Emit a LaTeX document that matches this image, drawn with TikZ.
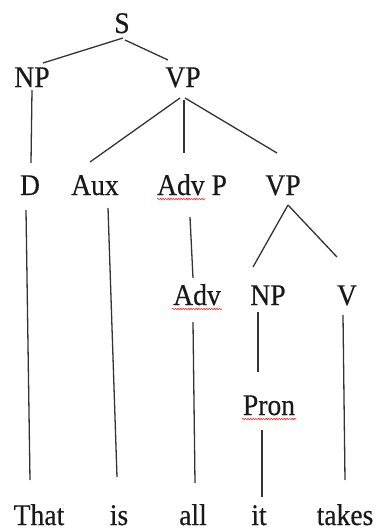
\documentclass[tikz,border=0pt]{standalone}
\usepackage{fontspec}
\setmainfont{Liberation Serif}[FakeStretch=0.92,FakeBold=0.4]
\usetikzlibrary{decorations.pathmorphing}
\begin{document}
\begin{tikzpicture}[x=1pt,y=-1pt,
  lab/.style={anchor=base,inner sep=0pt,font=\fontsize{30}{32}\selectfont,text=black!90},
  br/.style={draw=black!80,line width=1.3pt},
  squig/.style={draw=red!85,line width=0.6pt,decorate,decoration={snake,amplitude=0.7pt,segment length=2.6pt}}]
\useasboundingbox (0,0) rectangle (377,531);
% nodes
\node[lab] (S) at (122,33) {S};
\node[lab] (NP) at (32,87) {NP};
\node[lab] (VP) at (183,87) {VP};
\node[lab] (D) at (30,195) {D};
\node[lab] (Aux) at (95,195) {Aux};
\node[lab] (AdvP) at (192,195) {Adv P};
\node[lab] (VPb) at (283,195) {VP};
\node[lab] (Adv) at (197,305) {Adv};
\node[lab] (NPb) at (268,305) {NP};
\node[lab] (V) at (347,305) {V};
\node[lab] (Pron) at (269,415) {Pron};
\node[lab] (That) at (39,525) {That};
\node[lab] (is) at (119,525) {is};
\node[lab] (all) at (193,525) {all};
\node[lab] (it) at (259,525) {it};
\node[lab] (takes) at (345,525) {takes};
% spelling squiggles
\draw[squig] ([shift={(-35,4)}]AdvP.base) -- ([shift={(13,4)}]AdvP.base);
\draw[squig] ([shift={(-25,4)}]Adv.base) -- ([shift={(25,4)}]Adv.base);
\draw[squig] ([shift={(-27,4)}]Pron.base) -- ([shift={(27,4)}]Pron.base);
% branches
\draw[br] ([shift={(1,5)}]S.base) -- ([shift={(11,-24)}]NP.base);
\draw[br] ([shift={(3,7)}]S.base) -- ([shift={(-15,-27)}]VP.base);
\draw[br] ([shift={(0,3)}]NP.base) -- ([shift={(1,-32)}]D.base);
\draw[br] ([shift={(-3,11)}]VP.base) -- ([shift={(-5,-33)}]Aux.base);
\draw[br] ([shift={(1,13)}]VP.base) -- ([shift={(-8,-42)}]AdvP.base);
\draw[br] ([shift={(2,11)}]VP.base) -- ([shift={(-6,-42)}]VPb.base);
\draw[br] ([shift={(-4,15)}]D.base) -- ([shift={(-9,-45)}]That.base);
\draw[br] ([shift={(13,13)}]Aux.base) -- ([shift={(-2,-48)}]is.base);
\draw[br] ([shift={(-2,22)}]AdvP.base) -- ([shift={(-4,-27)}]Adv.base);
\draw[br] ([shift={(-4,17)}]Adv.base) -- ([shift={(2,-42)}]all.base);
\draw[br] ([shift={(5,10)}]VPb.base) -- ([shift={(-15,-38)}]NPb.base);
\draw[br] ([shift={(5,10)}]VPb.base) -- ([shift={(-10,-48)}]V.base);
\draw[br] ([shift={(-10,7)}]NPb.base) -- ([shift={(-11,-43)}]Pron.base);
\draw[br] ([shift={(-7,15)}]Pron.base) -- ([shift={(3,-28)}]it.base);
\draw[br] ([shift={(-4,10)}]V.base) -- ([shift={(0,-45)}]takes.base);
\end{tikzpicture}
\end{document}
